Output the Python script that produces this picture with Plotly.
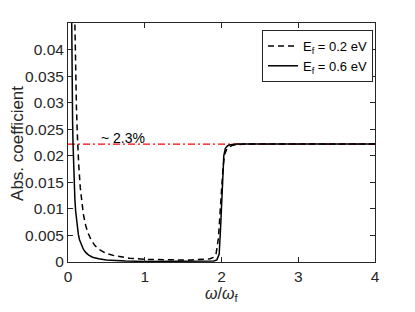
import plotly.graph_objects as go

# ---- data ----
x_ef02 = [0.085, 0.09, 0.10, 0.11, 0.12, 0.13, 0.14, 0.16, 0.18, 0.20, 0.23, 0.26,
          0.30, 0.35, 0.40, 0.50, 0.60, 0.70, 0.80, 1.0, 1.2, 1.4, 1.6, 1.75, 1.85,
          1.9, 1.93, 1.96, 1.98, 2.0, 2.02, 2.04, 2.07, 2.1, 2.15, 2.2, 2.3, 2.5,
          3.0, 3.5, 4.0]
y_ef02 = [0.0485, 0.0435, 0.0352, 0.0292, 0.0246, 0.0210, 0.0182, 0.0140, 0.0111,
          0.0090, 0.0069, 0.0055, 0.0042, 0.0031, 0.0024, 0.0016, 0.0012, 0.0009,
          0.0007, 0.0005, 0.0004, 0.0004, 0.0004, 0.0005, 0.0006, 0.0009, 0.0016,
          0.0045, 0.0090, 0.0135, 0.0178, 0.0202, 0.0213, 0.0217, 0.0220, 0.0221,
          0.0222, 0.0222, 0.0222, 0.0222, 0.0222]

x_ef06 = [0.04, 0.045, 0.05, 0.055, 0.06, 0.065, 0.07, 0.08, 0.09, 0.10, 0.11, 0.12,
          0.135, 0.15, 0.17, 0.20, 0.23, 0.27, 0.32, 0.40, 0.50, 0.60, 0.75, 1.0,
          1.5, 1.8, 1.9, 1.94, 1.97, 1.99, 2.0, 2.01, 2.03, 2.05, 2.08, 2.12, 2.2,
          2.5, 3.0, 3.5, 4.0]
y_ef06 = [0.0590, 0.0470, 0.0380, 0.0314, 0.0264, 0.0225, 0.0194, 0.0148, 0.0117,
          0.0095, 0.0079, 0.0066, 0.0052, 0.0042, 0.0033, 0.0024, 0.0018, 0.0013,
          0.0009, 0.0006, 0.0004, 0.0003, 0.0002, 0.0001, 0.0001, 0.0001, 0.0002,
          0.0004, 0.0015, 0.0070, 0.0110, 0.0150, 0.0200, 0.0214, 0.0219, 0.0221,
          0.0222, 0.0222, 0.0222, 0.0222, 0.0222]

ref_x = [0, 4]
ref_y = [0.0222, 0.0222]
ref_label = "~ 2.3%"

x_ticks = [0, 1, 2, 3, 4]
y_ticks = [0, 0.005, 0.01, 0.015, 0.02, 0.025, 0.03, 0.035, 0.04]
y_ticktext = ["0", "0.005", "0.01", "0.015", "0.02", "0.025", "0.03", "0.035", "0.04"]

FONT = "Liberation Sans, Arial, Helvetica, sans-serif"
AX = "#262626"

fig = go.Figure()
fig.add_trace(go.Scatter(x=ref_x, y=ref_y, mode="lines", showlegend=False,
                         line=dict(color="red", width=1.3, dash="7px,3px,2px,3px")))
fig.add_trace(go.Scatter(x=x_ef02, y=y_ef02, mode="lines", name="E<sub>f</sub> = 0.2 eV",
                         line=dict(color="black", width=1.5, dash="6px,4px")))
fig.add_trace(go.Scatter(x=x_ef06, y=y_ef06, mode="lines", name="E<sub>f</sub> = 0.6 eV",
                         line=dict(color="black", width=1.5)))

axis_common = dict(showline=True, linecolor=AX, linewidth=1, mirror="ticks",
                   ticks="inside", ticklen=5, tickcolor=AX, tickwidth=1,
                   showgrid=False, zeroline=False,
                   tickfont=dict(family=FONT, size=15.5, color=AX))

fig.update_xaxes(range=[0, 4], tickvals=x_ticks, **axis_common)
fig.update_yaxes(range=[0, 0.045], tickvals=y_ticks, ticktext=y_ticktext, **axis_common)

fig.add_annotation(x=0.40, y=0.02333, xref="x", yref="y", text=ref_label,
                   showarrow=False, xanchor="left", yanchor="middle",
                   font=dict(family=FONT, size=14, color="black"))
fig.add_annotation(x=-0.163, y=0.498, xref="paper", yref="paper", text="Abs. coefficient",
                   textangle=-90, showarrow=False, xanchor="center", yanchor="middle",
                   font=dict(family=FONT, size=17, color=AX))
fig.add_annotation(x=0.5, y=-0.134, xref="paper", yref="paper",
                   text="<i>ω</i>/<i>ω</i><sub>f</sub>",
                   showarrow=False, xanchor="center", yanchor="middle",
                   font=dict(family=FONT, size=16, color=AX))

# the page body adds an 8px offset; margins compensate so the plot area sits
# at the reference position in the 415x312 window
fig.update_layout(
    width=415, height=312,
    margin=dict(l=60, r=48, t=15, b=58),
    paper_bgcolor="white", plot_bgcolor="white",
    showlegend=True,
    legend=dict(x=0.9935, y=0.971, xanchor="right", yanchor="top",
                bordercolor=AX, borderwidth=1, bgcolor="white",
                font=dict(family=FONT, size=13, color="black"),
                itemwidth=30, tracegroupgap=0),
)

fig.write_html("out.html")
